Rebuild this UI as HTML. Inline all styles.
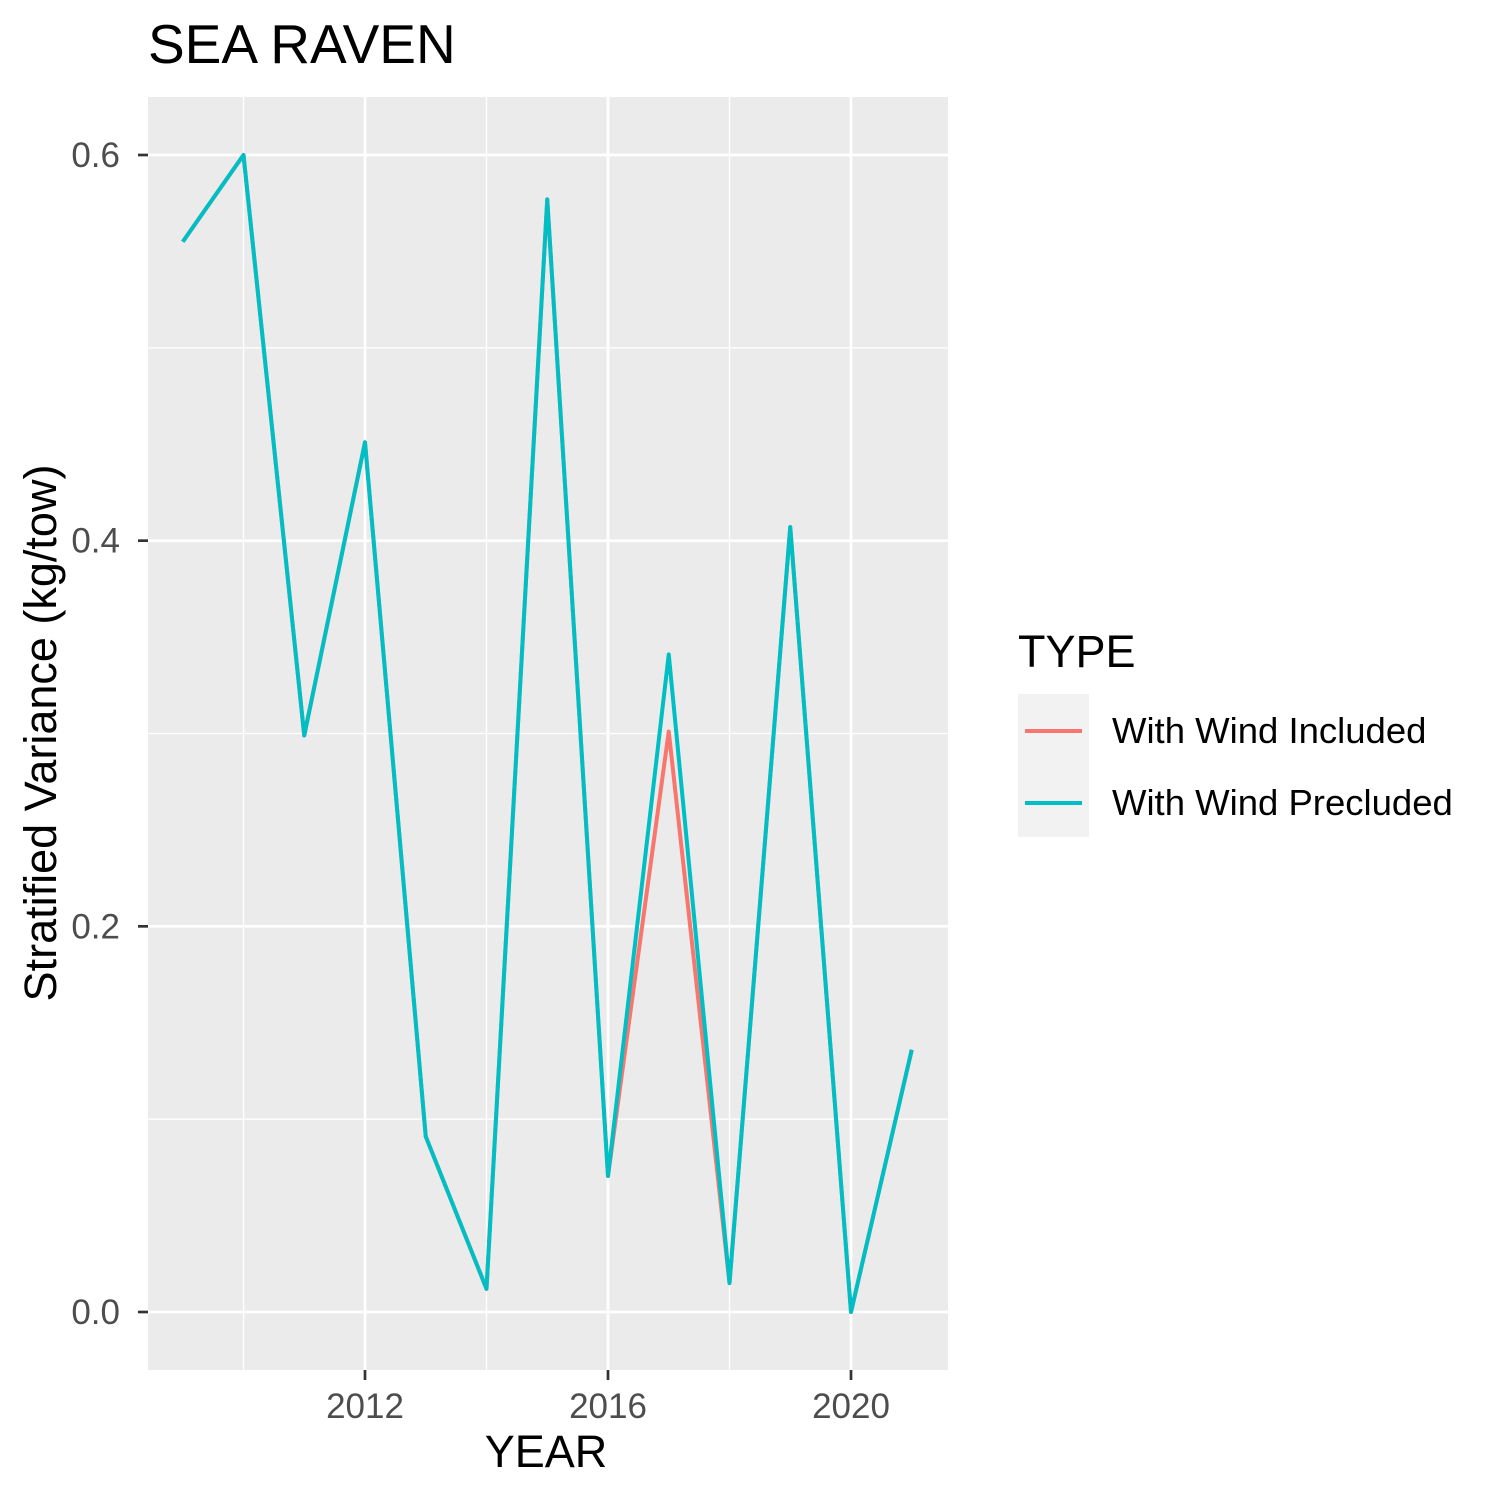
<!DOCTYPE html>
<html><head><meta charset="utf-8"><style>
body{margin:0;background:#fff;}
svg{display:block;font-family:"Liberation Sans",Arial,sans-serif;}
</style></head><body>
<svg id="chart" width="1500" height="1500" xmlns="http://www.w3.org/2000/svg">
<text x="148" y="63" font-size="55" fill="#000">SEA RAVEN</text>
<rect x="148" y="97" width="800" height="1273" fill="#ebebeb"/>
<g id="grid"></g>
<g id="series"></g>
<g id="axes"></g>
<text x="546" y="1467" font-size="45" text-anchor="middle" fill="#000">YEAR</text>
<text transform="translate(56,733) rotate(-90)" font-size="45" text-anchor="middle" fill="#000">Stratified Variance (kg/tow)</text>
<g>
<text x="1018" y="667" font-size="45" fill="#000">TYPE</text>
<rect x="1018" y="694" width="71" height="143" fill="#f2f2f2"/>
<line x1="1025" y1="731" x2="1082" y2="731" stroke="#F8766D" stroke-width="4"/>
<line x1="1025" y1="803" x2="1082" y2="803" stroke="#00BFC4" stroke-width="4"/>
<text x="1112" y="743" font-size="36.5" fill="#000">With Wind Included</text>
<text x="1112" y="815" font-size="36.5" fill="#000">With Wind Precluded</text>
</g>
</svg>
<script>
const years=[2009,2010,2011,2012,2013,2014,2015,2016,2017,2018,2019,2020,2021];
const included=[0.555,0.600,0.299,0.451,0.091,0.012,0.577,0.0705,0.301,0.015,0.407,0.0,0.136];
const precluded=[0.555,0.600,0.299,0.451,0.091,0.012,0.577,0.0705,0.341,0.015,0.407,0.0,0.136];
const xTicks=[2012,2016,2020];
const xMinor=[2010,2014,2018];
const yTicks=[0.0,0.2,0.4,0.6];
const yTickLabels=["0.0","0.2","0.4","0.6"];
const yMinor=[0.1,0.3,0.5];

const NS="http://www.w3.org/2000/svg";
const X=v=>365+(v-2012)*60.75;
const Y=v=>1312-v*1928.33;
function mk(tag,attrs,parent){const e=document.createElementNS(NS,tag);for(const k in attrs)e.setAttribute(k,attrs[k]);parent.appendChild(e);return e;}
const grid=document.getElementById('grid'),axes=document.getElementById('axes'),series=document.getElementById('series');
yMinor.forEach(v=>{const l=mk('line',{x1:148,x2:948,y1:Y(v),y2:Y(v),stroke:'#fff','stroke-width':1.3},grid);

});
xMinor.forEach(v=>{const l=mk('line',{x1:X(v),x2:X(v),y1:97,y2:1370,stroke:'#fff','stroke-width':1.3},grid);

});
yTicks.forEach((v,i)=>{const l=mk('line',{x1:148,x2:948,y1:Y(v),y2:Y(v),stroke:'#fff','stroke-width':2.7},grid);


const t=mk('line',{x1:138,x2:148,y1:Y(v),y2:Y(v),stroke:'#333','stroke-width':2.7},axes);


const tx=mk('text',{x:120,y:Y(v)+12,'font-size':35,'text-anchor':'end',fill:'#4d4d4d'},axes);tx.textContent=yTickLabels[i];

});
xTicks.forEach(v=>{const l=mk('line',{x1:X(v),x2:X(v),y1:97,y2:1370,stroke:'#fff','stroke-width':2.7},grid);


const t=mk('line',{x1:X(v),x2:X(v),y1:1370,y2:1380,stroke:'#333','stroke-width':2.7},axes);


const tx=mk('text',{x:X(v),y:1418,'font-size':35,'text-anchor':'middle',fill:'#4d4d4d'},axes);tx.textContent=v;

});
function line(vals,color,name){const p=mk('polyline',{points:vals.map((v,i)=>X(years[i])+','+Y(v)).join(' '),fill:'none',stroke:color,'stroke-width':4,'stroke-linejoin':'round'},series);

}
line(included,'#F8766D','line-with-wind-included');
line(precluded,'#00BFC4','line-with-wind-precluded');
</script>
</body></html>
